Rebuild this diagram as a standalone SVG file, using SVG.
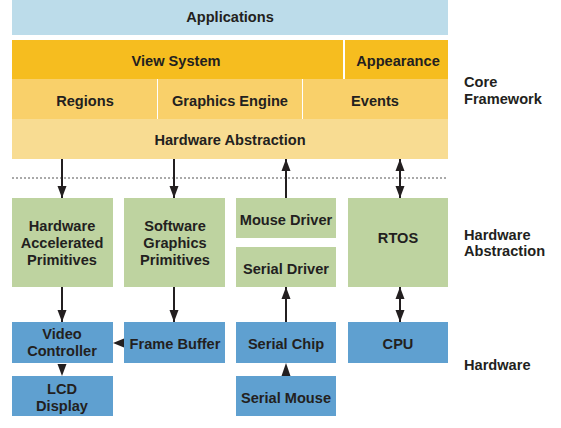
<svg xmlns="http://www.w3.org/2000/svg" width="561" height="428" viewBox="0 0 561 428">
<style>
text{font-family:"Liberation Sans",Arial,sans-serif;font-size:14.6px;font-weight:bold;fill:#231f20;text-anchor:middle}
.side{text-anchor:start;font-size:14.6px}
.green{fill:#bed3a0}
.blue{fill:#5fa0d0}
.ln{stroke:#231f20;stroke-width:2;fill:none}
.ah{fill:#231f20}
</style>
<defs>
<marker id="arr" viewBox="0 0 12 10" refX="12" refY="5" markerWidth="12" markerHeight="10" markerUnits="userSpaceOnUse" orient="auto-start-reverse">
<path d="M0,0.5 L12,5 L0,9.5 Z" fill="#231f20"/>
</marker>
</defs>
<rect width="561" height="428" fill="#fff"/>
<g id="applications"><rect x="12" y="0" width="436" height="35" fill="#bcdcea"/><text x="230" y="22">Applications</text></g>
<g id="view-system"><rect x="12" y="40" width="331" height="39" fill="#f6bd1f"/><text x="176" y="66">View System</text></g>
<g id="appearance"><rect x="345" y="40" width="103" height="39" fill="#f6bd1f"/><text x="398" y="66">Appearance</text></g>
<g id="regions"><rect x="12" y="79" width="145" height="40" fill="#f9d06a"/><text x="85" y="106">Regions</text></g>
<g id="graphics-engine"><rect x="158" y="79" width="144" height="40" fill="#f9d06a"/><text x="230" y="106">Graphics Engine</text></g>
<g id="events"><rect x="303" y="79" width="145" height="40" fill="#f9d06a"/><text x="375" y="106">Events</text></g>
<g id="hardware-abstraction"><rect x="12" y="119" width="436" height="40" fill="#f8dc92"/><text x="230" y="145">Hardware Abstraction</text></g>
<g id="divider"><line x1="12" y1="178" x2="448" y2="178" stroke="#555" stroke-width="1" stroke-dasharray="2,2"/></g>
<g id="hw-accel"><rect class="green" x="12" y="198" width="101" height="89"/><text x="62" y="231">Hardware</text><text x="62" y="248">Accelerated</text><text x="62" y="265">Primitives</text></g>
<g id="sw-graphics"><rect class="green" x="124" y="198" width="101" height="89"/><text x="175" y="231">Software</text><text x="175" y="248">Graphics</text><text x="175" y="265">Primitives</text></g>
<g id="mouse-driver"><rect class="green" x="236" y="198" width="100" height="40"/><text x="286" y="225">Mouse Driver</text></g>
<g id="serial-driver"><rect class="green" x="236" y="247" width="100" height="40"/><text x="286" y="274">Serial Driver</text></g>
<g id="rtos"><rect class="green" x="348" y="198" width="100" height="89"/><text x="398" y="243">RTOS</text></g>
<g id="video-controller"><rect class="blue" x="12" y="322" width="101" height="41"/><text x="62" y="339">Video</text><text x="62" y="356">Controller</text></g>
<g id="frame-buffer"><rect class="blue" x="124" y="322" width="101" height="41"/><text x="175" y="349">Frame Buffer</text></g>
<g id="serial-chip"><rect class="blue" x="236" y="322" width="100" height="41"/><text x="286" y="349">Serial Chip</text></g>
<g id="cpu"><rect class="blue" x="348" y="322" width="100" height="41"/><text x="398" y="349">CPU</text></g>
<g id="lcd-display"><rect class="blue" x="12" y="376" width="101" height="40"/><text x="62" y="394">LCD</text><text x="62" y="411">Display</text></g>
<g id="serial-mouse"><rect class="blue" x="236" y="376" width="100" height="40"/><text x="286" y="403">Serial Mouse</text></g>
<g id="labels">
<text class="side" x="464" y="87">Core</text><text class="side" x="464" y="104">Framework</text>
<text class="side" x="464" y="240">Hardware</text><text class="side" x="464" y="256">Abstraction</text>
<text class="side" x="464" y="370">Hardware</text>
</g>
<g id="connectors">
<line class="ln" x1="62" y1="159" x2="62" y2="198" marker-end="url(#arr)"/>
<line class="ln" x1="174" y1="159" x2="174" y2="198" marker-end="url(#arr)"/>
<line class="ln" x1="286" y1="198" x2="286" y2="159" marker-end="url(#arr)"/>
<line class="ln" x1="400" y1="159" x2="400" y2="198" marker-start="url(#arr)" marker-end="url(#arr)"/>
<line class="ln" x1="62" y1="287" x2="62" y2="322" marker-end="url(#arr)"/>
<line class="ln" x1="174" y1="287" x2="174" y2="322" marker-end="url(#arr)"/>
<line class="ln" x1="286" y1="322" x2="286" y2="287" marker-end="url(#arr)"/>
<line class="ln" x1="400" y1="287" x2="400" y2="322" marker-start="url(#arr)" marker-end="url(#arr)"/>
<path class="ah" d="M113,343 L124,338.5 L124,347.5 Z"/>
<path class="ah" d="M62,376 L57.5,364 L66.5,364 Z"/>
<path class="ah" d="M286,363 L281.5,376 L290.5,376 Z"/>
</g>
</svg>
